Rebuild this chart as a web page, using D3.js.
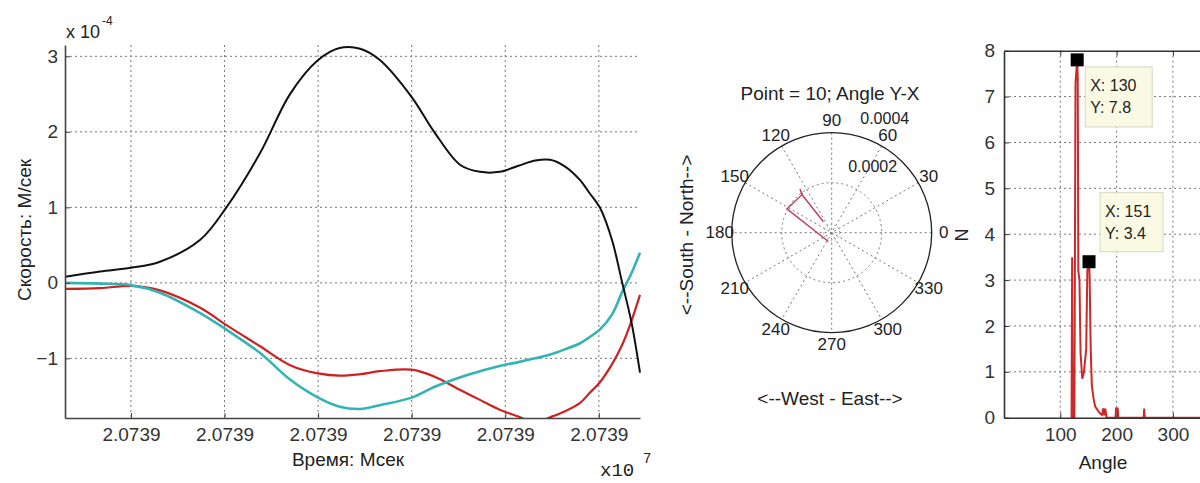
<!DOCTYPE html>
<html>
<head>
<meta charset="utf-8">
<script src="https://cdn.jsdelivr.net/npm/d3@7"></script>
<style>
  body { margin: 0; background: #fff; }
  text { font-family: "Liberation Sans", Arial, sans-serif; fill: #222; }
</style>
</head>
<body>
<div id="chart"></div>
<script>
// velocity plot (time in tick units, all ticks read 2.0739 x10^7)
const timePoints = [0.30, 0.67, 1.00, 1.31, 1.74, 2.02, 2.38, 2.70, 3.00, 3.23, 3.45, 3.66, 4.00, 4.24,
                    4.52, 4.73, 4.94, 5.14, 5.32, 5.48, 5.64, 5.80, 5.90, 6.01, 6.14, 6.25, 6.35, 6.44];
const velBlack = [0.08, 0.15, 0.20, 0.28, 0.57, 1.00, 1.72, 2.50, 2.95, 3.11, 3.10, 2.95, 2.46, 2.00,
                  1.56, 1.47, 1.47, 1.55, 1.62, 1.63, 1.54, 1.36, 1.19, 1.00, 0.57, 0.00, -0.53, -1.19];
const velRed = [-0.08, -0.07, -0.04, -0.10, -0.33, -0.56, -0.84, -1.09, -1.20, -1.23, -1.21, -1.17, -1.15, -1.24,
                -1.42, -1.55, -1.68, -1.77, -1.85, -1.78, -1.70, -1.59, -1.46, -1.32, -1.08, -0.82, -0.50, -0.16];
const velCyan = [0.00, -0.01, -0.03, -0.13, -0.40, -0.62, -0.93, -1.28, -1.52, -1.64, -1.67, -1.62, -1.52, -1.38,
                 -1.25, -1.17, -1.10, -1.05, -1.00, -0.95, -0.88, -0.80, -0.72, -0.62, -0.42, -0.12, 0.13, 0.40];
const timeTicks = [1, 2, 3, 4, 5, 6];
const timeTickLabels = ['2.0739', '2.0739', '2.0739', '2.0739', '2.0739', '2.0739'];
const velTicks = [-1, 0, 1, 2, 3];

// polar plot
const polarAngle = [249, 152, 128, 126, 128, 127];
const polarRadius = [0.000038, 0.000203, 0.000193, 0.000216, 0.000186, 0.000055];
const polarAngleTicks = [0, 30, 60, 90, 120, 150, 180, 210, 240, 270, 300, 330];
const polarRadTicks = [0.0002, 0.0004];
const polarRadLabels = ['0.0002', '0.0004'];

// angle histogram
const histAngle = [120, 121, 122, 125, 127, 130, 131, 132, 134, 136, 139, 142, 146, 148, 151, 152, 154, 156, 159,
                   162, 166, 170, 174, 176, 178, 180, 182, 198, 199, 202, 203, 248, 249, 250, 360];
const histCount = [0, 3.5, 0, 0, 7.3, 7.8, 7.4, 3.2, 3.0, 1.4, 0.85, 1.0, 1.5, 3.2, 3.4, 3.1, 1.5, 0.7, 0.42,
                   0.24, 0.17, 0.1, 0.06, 0.2, 0.05, 0.2, 0, 0, 0.2, 0.2, 0, 0, 0.2, 0, 0];
const histXTicks = [100, 200, 300];
const histYTicks = [0, 1, 2, 3, 4, 5, 6, 7, 8];
const tipAngle = [130, 151];
const tipCount = [7.8, 3.4];

const svg = d3.select('div#chart')
    .append('svg')
    .attr('width', 1200)
    .attr('height', 483);

const gridDash = '2,3';

// ---------- left: velocity ----------
const x1 = d3.scaleLinear().domain([0.295, 6.44]).range([65, 640]);
const y1 = d3.scaleLinear().domain([-1.79, 3.15]).range([418, 45]);

svg.append('clipPath').attr('id', 'clip1')
    .append('rect').attr('x', 65).attr('y', 45).attr('width', 577).attr('height', 373);

const g1 = svg.append('g');
g1.selectAll('line.hgrid').data(velTicks).enter().append('line')
    .attr('x1', 65).attr('x2', 640)
    .attr('y1', d => y1(d)).attr('y2', d => y1(d))
    .style('stroke', '#777').style('stroke-dasharray', gridDash);
g1.selectAll('line.vgrid').data(timeTicks).enter().append('line')
    .attr('y1', 45).attr('y2', 418)
    .attr('x1', d => x1(d)).attr('x2', d => x1(d))
    .style('stroke', '#777').style('stroke-dasharray', gridDash);

const line1 = vals => d3.line()
    .x((d, i) => x1(timePoints[i]))
    .y(d => y1(d))
    .curve(d3.curveCatmullRom.alpha(0.5))(vals);

[[velRed, '#cc2222', 2.2], [velCyan, '#33b3b3', 2.6], [velBlack, '#111', 2]].forEach(s => {
    g1.append('path')
        .attr('d', line1(s[0]))
        .attr('clip-path', 'url(#clip1)')
        .style('fill', 'none')
        .style('stroke', s[1])
        .style('stroke-width', s[2]);
});

const xAxis1 = d3.axisBottom(x1).tickValues(timeTicks)
    .tickFormat((d, i) => timeTickLabels[i]).tickSizeInner(-5).tickSizeOuter(0).tickPadding(10);
const gx1 = g1.append('g').attr('transform', 'translate(0,418)').call(xAxis1);
const yAxis1 = d3.axisLeft(y1).tickValues(velTicks).tickFormat(d3.format('d'))
    .tickSizeInner(-5).tickSizeOuter(0).tickPadding(12);
const gy1 = g1.append('g').attr('transform', 'translate(65,0)').call(yAxis1);
[gx1, gy1].forEach(g => {
    g.select('.domain').style('stroke', '#444').style('stroke-width', 1.6);
    g.selectAll('.tick line').style('stroke', '#444');
    g.selectAll('.tick text').style('font-size', '19px').style('fill', '#333');
});
gy1.selectAll('.tick text').attr('x', -7);

g1.append('text').attr('x', 66).attr('y', 38).style('font-size', '18px').text('x 10');
g1.append('text').attr('x', 102).attr('y', 25).style('font-size', '12px').text('-4');
g1.append('text')
    .attr('transform', 'translate(24,230) rotate(-90)')
    .attr('text-anchor', 'middle').attr('dominant-baseline', 'central').style('font-size', '19px')
    .text('Скорость: М/сек');
g1.append('text').attr('x', 348).attr('y', 466).attr('text-anchor', 'middle')
    .style('font-size', '19px').text('Время: Мсек');
g1.append('text').attr('x', 600).attr('y', 476)
    .style('font-family', '"Liberation Mono", monospace').style('font-size', '19px').text('x10');
g1.append('text').attr('x', 643).attr('y', 463)
    .style('font-family', '"Liberation Mono", monospace').style('font-size', '14px').text('7');

// ---------- middle: polar ----------
const cx = 831.7, cy = 232.7;
const r2 = d3.scaleLinear().domain([0, 0.0004]).range([0, 100]);
const px = (a, r) => cx + r * Math.cos(a * Math.PI / 180);
const py = (a, r) => cy - r * Math.sin(a * Math.PI / 180);
const g2 = svg.append('g');

g2.selectAll('line.spoke').data(polarAngleTicks.filter(a => a < 180)).enter().append('line')
    .attr('x1', a => px(a, 100)).attr('y1', a => py(a, 100))
    .attr('x2', a => px(a + 180, 100)).attr('y2', a => py(a + 180, 100))
    .style('stroke', '#777').style('stroke-dasharray', gridDash);
g2.append('circle').attr('cx', cx).attr('cy', cy).attr('r', r2(polarRadTicks[0]))
    .style('fill', 'none').style('stroke', '#777').style('stroke-dasharray', gridDash);
g2.append('circle').attr('cx', cx).attr('cy', cy).attr('r', 8)
    .style('fill', 'none').style('stroke', '#999').style('stroke-dasharray', '1.5,2.5');
g2.append('circle').attr('cx', cx).attr('cy', cy).attr('r', r2(polarRadTicks[1]))
    .style('fill', 'none').style('stroke', '#222').style('stroke-width', 1.3);

g2.append('path')
    .attr('d', d3.line()
        .x((d, i) => px(polarAngle[i], r2(polarRadius[i])))
        .y((d, i) => py(polarAngle[i], r2(polarRadius[i])))(polarAngle))
    .style('fill', 'none').style('stroke', '#c0405a').style('stroke-width', 1.4);

g2.selectAll('text.ang').data(polarAngleTicks).enter().append('text')
    .attr('x', a => px(a, 112)).attr('y', a => py(a, 112))
    .attr('text-anchor', 'middle').attr('dominant-baseline', 'central')
    .style('font-size', '17px').text(a => a);
g2.selectAll('text.rad').data(polarRadTicks).enter().append('text')
    .attr('x', v => px(76, r2(v) + 18)).attr('y', v => py(76, r2(v) + 18))
    .attr('dominant-baseline', 'central')
    .style('font-size', '16px').text((v, i) => polarRadLabels[i]);

g2.append('text').attr('x', 830).attr('y', 93).attr('text-anchor', 'middle')
    .attr('dominant-baseline', 'central').style('font-size', '19px').text('Point = 10; Angle Y-X');
g2.append('text').attr('x', 830).attr('y', 398).attr('text-anchor', 'middle')
    .attr('dominant-baseline', 'central').style('font-size', '19px').text('<--West - East-->');
g2.append('text').attr('transform', 'translate(686,235) rotate(-90)').attr('text-anchor', 'middle')
    .attr('dominant-baseline', 'central').style('font-size', '19px').text('<--South - North-->');

// ---------- right: histogram ----------
const x3 = d3.scaleLinear().domain([0, 360]).range([1004, 1206.7]);
const y3 = d3.scaleLinear().domain([0, 8]).range([417.7, 50.7]);
const g3 = svg.append('g');

g3.selectAll('line.hgrid').data(histYTicks.slice(1, -1)).enter().append('line')
    .attr('x1', 1004).attr('x2', 1206)
    .attr('y1', d => y3(d)).attr('y2', d => y3(d))
    .style('stroke', '#777').style('stroke-dasharray', gridDash);
g3.selectAll('line.vgrid').data(histXTicks).enter().append('line')
    .attr('y1', 50.7).attr('y2', 417.7)
    .attr('x1', d => x3(d)).attr('x2', d => x3(d))
    .style('stroke', '#777').style('stroke-dasharray', gridDash);

g3.append('path')
    .attr('d', d3.line().x((d, i) => x3(histAngle[i])).y(d => y3(d))(histCount))
    .style('fill', 'none').style('stroke', '#cc2a2a').style('stroke-width', 2);

const xAxis3 = d3.axisBottom(x3).tickValues(histXTicks).tickSizeInner(-5).tickSizeOuter(0).tickPadding(10);
const gx3 = g3.append('g').attr('transform', 'translate(0,417.7)').call(xAxis3);
const gt3 = g3.append('g').attr('transform', 'translate(0,50.7)')
    .call(d3.axisTop(x3).tickValues(histXTicks).tickFormat('').tickSizeInner(-5).tickSizeOuter(0));
const yAxis3 = d3.axisLeft(y3).tickValues(histYTicks).tickFormat(d3.format('d'))
    .tickSizeInner(-5).tickSizeOuter(0).tickPadding(12);
const gy3 = g3.append('g').attr('transform', 'translate(1004,0)').call(yAxis3);
[gx3, gt3, gy3].forEach(g => {
    g.select('.domain').style('stroke', '#333').style('stroke-width', 1.6);
    g.selectAll('.tick line').style('stroke', '#333');
    g.selectAll('.tick text').style('font-size', '19px').style('fill', '#333');
});
gy3.selectAll('.tick text').attr('x', -9);

g3.selectAll('rect.marker').data(tipAngle).enter().append('rect')
    .attr('x', (d, i) => x3(d) - 6.5).attr('y', (d, i) => y3(tipCount[i]) - 6.5)
    .attr('width', 13).attr('height', 13).style('fill', '#000');

const tipBox = [[8, 7, 67, 60], [11, -69, 63, 59]];
tipAngle.forEach((a, i) => {
    const bx = x3(a) + tipBox[i][0], by = y3(tipCount[i]) + tipBox[i][1];
    g3.append('rect').attr('x', bx).attr('y', by)
        .attr('width', tipBox[i][2]).attr('height', tipBox[i][3])
        .style('fill', '#fafae4').style('stroke', '#d6d6c0');
    g3.append('text').attr('x', bx + 5).attr('y', by + 24).style('font-size', '16px')
        .text('X: ' + a);
    g3.append('text').attr('x', bx + 5).attr('y', by + 46).style('font-size', '16px')
        .text('Y: ' + tipCount[i]);
});

g3.append('text').attr('x', 1103).attr('y', 469).attr('text-anchor', 'middle')
    .style('font-size', '19px').text('Angle');
g3.append('text').attr('transform', 'translate(962,235) rotate(-90)').attr('text-anchor', 'middle')
    .attr('dominant-baseline', 'central').style('font-size', '18px').text('N');
</script>
</body>
</html>
